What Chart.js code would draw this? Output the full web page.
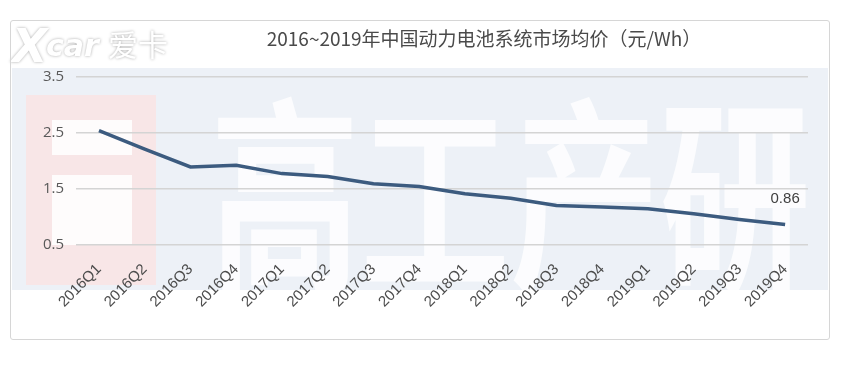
<!DOCTYPE html>
<html>
<head>
<meta charset="utf-8">
<script src="https://cdn.jsdelivr.net/npm/chart.js@4/dist/chart.umd.min.js"></script>
<style>
  html, body { margin: 0; padding: 0; background: #fff; }
  #wrap { position: relative; width: 852px; height: 365px; }
  #frame { position: absolute; left: 10px; top: 20px; width: 818px; height: 318px;
           border: 1px solid #d6d6d6; border-radius: 3px; pointer-events: none; }
</style>
</head>
<body>
<div id="wrap">
  <canvas id="grafico" width="852" height="365"></canvas>
  <div id="frame"></div>
</div>
<script>
// dados
var trimestres = ['2016Q1', '2016Q2', '2016Q3', '2016Q4', '2017Q1', '2017Q2', '2017Q3', '2017Q4',
                  '2018Q1', '2018Q2', '2018Q3', '2018Q4', '2019Q1', '2019Q2', '2019Q3', '2019Q4'];
var precoMedio = [2.54, 2.21, 1.89, 1.92, 1.77, 1.72, 1.59, 1.54, 1.41, 1.33, 1.20, 1.17, 1.14, 1.05, 0.95, 0.86];
var ticksY = [0.5, 1.5, 2.5, 3.5];
var titulo = '2016~2019年中国动力电池系统市场均价（元/Wh）';

var fundo = {
  id: 'fundo',
  beforeDraw: function(chart) {
    var ctx = chart.ctx;
    ctx.save();
    // faixa azulada da marca d'água
    ctx.fillStyle = '#edf1f7';
    ctx.fillRect(12, 68, 816, 222);
    ctx.fillStyle = 'rgba(250,228,226,0.8)';
    ctx.fillRect(26, 95, 130, 190);
    ctx.fillStyle = 'rgba(255,255,255,0.85)';
    ctx.fillRect(52, 120, 80, 35);
    ctx.fillRect(52, 175, 80, 70);
    ctx.save();
    ctx.scale(1, 1.4);
    ctx.font = 'bold 150px "Noto Sans CJK SC"';
    ctx.textBaseline = 'alphabetic';
    ctx.fillStyle = 'rgba(255,255,255,0.8)';
    ctx.fillText('高工产研', 210, 198);
    ctx.restore();
    // logo
    ctx.font = 'italic bold 46px "DejaVu Sans"';
    ctx.shadowColor = 'rgba(0,0,0,0.35)';
    ctx.shadowBlur = 3;
    ctx.fillStyle = '#ffffff';
    ctx.fillText('X', 12, 62);
    ctx.font = 'italic bold 30px "DejaVu Sans"';
    ctx.fillText('car', 46, 56);
    ctx.font = '30px "Noto Sans CJK SC"';
    ctx.fillText('爱卡', 108, 56);
    ctx.shadowColor = 'transparent';
    // título
    ctx.font = '19px "Noto Sans CJK SC"';
    ctx.fillStyle = '#4a4a4a';
    ctx.textAlign = 'center';
    ctx.textBaseline = 'middle';
    ctx.fillText(titulo, 484, 39);
    ctx.restore();
  },
  afterDatasetsDraw: function(chart) {
    var ctx = chart.ctx;
    var meta = chart.getDatasetMeta(0);
    var ultimo = meta.data[meta.data.length - 1];
    ctx.save();
    ctx.font = '15px "Liberation Sans"';
    ctx.fillStyle = '#404040';
    ctx.textAlign = 'center';
    ctx.textBaseline = 'middle';
    ctx.fillText(precoMedio[precoMedio.length - 1].toFixed(2), ultimo.x, ultimo.y - 26);
    ctx.restore();
  }
};

var grafico = new Chart(document.getElementById('grafico').getContext('2d'), {
  type: 'line',
  data: {
    labels: trimestres,
    datasets: [{
      data: precoMedio,
      borderColor: '#3c5b7f',
      borderWidth: 3.5,
      pointRadius: 0,
      tension: 0,
      fill: false
    }]
  },
  options: {
    responsive: false,
    animation: false,
    layout: { padding: { left: 31, right: 44, top: 77, bottom: 38 } },
    plugins: { legend: { display: false }, tooltip: { enabled: false } },
    scales: {
      x: {
        offset: true,
        grid: { display: false, drawTicks: false },
        border: { display: false },
        ticks: {
          minRotation: 45, maxRotation: 45, autoSkip: false, padding: 16,
          color: '#4d4d4d', font: { family: 'Liberation Sans', size: 15 }
        }
      },
      y: {
        min: 0.5, max: 3.5,
        afterBuildTicks: function(axis) {
          axis.ticks = ticksY.map(function(v) { return { value: v }; });
        },
        grid: { color: '#d4d4d4', lineWidth: 1.5, drawTicks: false },
        border: { display: false },
        ticks: {
          padding: 12, color: '#595959', font: { family: 'Open Sans', size: 15 },
          callback: function(v) { return v.toFixed(1); }
        }
      }
    }
  },
  plugins: [fundo]
});
</script>
</body>
</html>
